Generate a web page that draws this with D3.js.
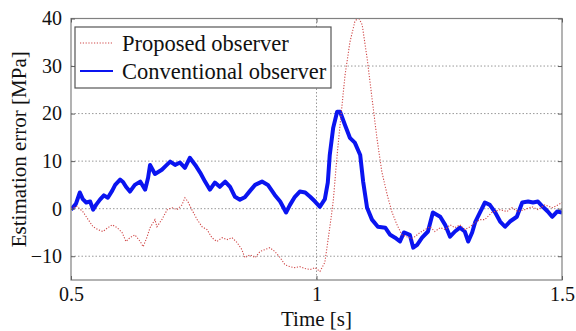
<!DOCTYPE html>
<meta charset="utf-8">
<html>

<head>
  <script src="https://d3js.org/d3.v7.min.js" charset="utf-8"></script>

  <style>
    body {
      margin: 0;
      background-color: white;
    }

    svg text {
      font-family: "Times New Roman", Times, "Liberation Serif", "DejaVu Serif", serif;
      fill: #111;
    }

    .grid line {
      stroke: #999;
      stroke-width: 1;
      stroke-dasharray: 1.5, 2;
    }
  </style>
</head>

<body>
  <script>
    //Series names
    var seriesNames = ['Proposed observer', 'Conventional observer'];

    //Tick labels
    var xTicks = [0.5, 1, 1.5];
    var yTicks = [-10, 0, 10, 20, 30, 40];

    //Proposed observer (time [s], error [MPa])
    var proposedT = [0.500, 0.512, 0.524, 0.535, 0.545, 0.555, 0.565, 0.575, 0.584, 0.594,
      0.604, 0.612, 0.620, 0.630, 0.641, 0.647, 0.655, 0.661, 0.671, 0.675,
      0.685, 0.696, 0.706, 0.716, 0.726, 0.732, 0.738, 0.746, 0.757, 0.767,
      0.777, 0.787, 0.797, 0.808, 0.818, 0.828, 0.838, 0.848, 0.854, 0.865,
      0.875, 0.885, 0.895, 0.905, 0.915, 0.926, 0.936, 0.946, 0.956, 0.966,
      0.977, 0.987, 0.997, 1.007, 1.017, 1.027, 1.034, 1.042, 1.048, 1.058,
      1.068, 1.078, 1.085, 1.093, 1.103, 1.113, 1.123, 1.133, 1.144, 1.154,
      1.164, 1.174, 1.184, 1.195, 1.200, 1.211, 1.221, 1.231, 1.241, 1.252,
      1.262, 1.272, 1.282, 1.292, 1.302, 1.313, 1.323, 1.333, 1.343, 1.357,
      1.374, 1.388, 1.398, 1.410, 1.424, 1.439, 1.451, 1.465, 1.480, 1.492, 1.500];
    var proposedV = [0.0, 0.5, -0.6, -2.3, -3.8, -4.4, -4.8, -4.0, -3.4, -4.0,
      -5.0, -6.9, -6.1, -5.5, -6.9, -8.0, -5.9, -4.0, -2.3, -3.8,
      -2.3, -0.2, 0.2, -0.2, 0.8, 2.3, 1.5, -0.2, -2.3, -3.8,
      -4.4, -6.1, -6.9, -6.1, -6.5, -6.1, -7.1, -8.6, -10.3, -9.7,
      -10.3, -9.0, -8.6, -8.2, -9.0, -10.3, -11.8, -12.2, -12.4, -12.2,
      -12.6, -12.8, -12.4, -13.2, -11.3, -4.0, 1.5, 11.3, 17.6, 28.0,
      35.0, 39.3, 40.3, 38.7, 31.7, 23.3, 14.9, 7.8, 2.9, -0.8,
      -3.4, -5.5, -5.9, -6.3, -5.9, -5.0, -4.4, -3.8, -4.8, -4.0,
      -4.4, -3.4, -4.0, -3.4, -4.4, -3.8, -2.9, -2.3, -2.3, -0.8,
      -0.2, -0.6, 0.2, -0.6, -0.2, 0.4, -0.2, 0.8, 0.2, 0.8, 1.3];

    //Conventional observer (time [s], error [MPa])
    var conventionalT = [0.500, 0.510, 0.518, 0.524, 0.531, 0.539, 0.545, 0.551, 0.559, 0.567,
      0.575, 0.584, 0.590, 0.600, 0.606, 0.612, 0.620, 0.630, 0.641, 0.651,
      0.657, 0.661, 0.671, 0.685, 0.693, 0.702, 0.712, 0.722, 0.732, 0.742,
      0.753, 0.763, 0.773, 0.783, 0.793, 0.803, 0.814, 0.824, 0.834, 0.844,
      0.854, 0.865, 0.875, 0.889, 0.901, 0.915, 0.926, 0.938, 0.946, 0.956,
      0.966, 0.977, 0.987, 0.997, 1.007, 1.017, 1.023, 1.027, 1.034, 1.042,
      1.048, 1.058, 1.068, 1.078, 1.089, 1.095, 1.103, 1.113, 1.125, 1.140,
      1.150, 1.160, 1.170, 1.178, 1.190, 1.197, 1.205, 1.215, 1.227, 1.237,
      1.252, 1.262, 1.272, 1.282, 1.292, 1.302, 1.309, 1.317, 1.323, 1.333,
      1.343, 1.353, 1.364, 1.374, 1.384, 1.394, 1.408, 1.419, 1.431, 1.441,
      1.451, 1.461, 1.471, 1.480, 1.490, 1.500];
    var conventionalV = [-0.2, 1.0, 3.4, 2.0, 1.3, 1.5, -0.2, 0.8, 1.9, 2.8,
      2.3, 3.8, 5.0, 6.1, 5.6, 4.6, 3.6, 5.0, 5.7, 4.0,
      6.5, 9.2, 7.3, 8.2, 9.0, 9.9, 9.2, 9.7, 8.6, 10.7,
      9.2, 7.6, 5.7, 4.0, 5.5, 4.6, 5.7, 4.6, 2.5, 1.9,
      2.4, 3.8, 5.0, 5.7, 5.0, 2.9, 1.5, -0.8, 0.8, 2.5,
      3.6, 3.4, 2.5, 1.5, 0.4, 2.0, 5.5, 11.3, 17.0, 20.4,
      20.4, 17.6, 14.9, 13.9, 11.3, 5.7, 0.2, -2.3, -3.8, -4.0,
      -5.5, -6.1, -6.9, -5.0, -5.5, -8.2, -7.6, -6.1, -4.8, -0.8,
      -1.7, -3.4, -5.9, -4.8, -4.0, -4.8, -6.9, -5.0, -2.9, -0.8,
      1.3, 0.8, -0.8, -2.7, -3.8, -2.7, -1.7, 1.3, 1.5, 1.3,
      1.5, 0.4, -0.6, -1.7, -0.6, -0.8];

    //Plot area
    var W = 576, H = 331;
    var m = { top: 18.5, right: 14, bottom: 51, left: 71 };
    var w = W - m.left - m.right,
      h = H - m.top - m.bottom;

    var svg = d3.select('body')
      .append('svg')
      .attr('width', W)
      .attr('height', H);

    var g = svg.append('g')
      .attr('transform', `translate(${m.left}, ${m.top})`);

    //Scales
    var x = d3.scaleLinear().domain([0.5, 1.5]).range([0, w]);
    var y = d3.scaleLinear().domain([-15, 40]).range([h, 0]);

    //Grid
    g.append('g')
      .attr('class', 'grid')
      .selectAll('line.gy')
      .data(yTicks.filter(d => d < 40))
      .enter()
      .append('line')
      .attr('x1', 0)
      .attr('x2', w)
      .attr('y1', d => y(d))
      .attr('y2', d => y(d));

    g.append('g')
      .attr('class', 'grid')
      .selectAll('line.gx')
      .data(xTicks.filter(d => d > 0.5 && d < 1.5))
      .enter()
      .append('line')
      .attr('y1', 0)
      .attr('y2', h)
      .attr('x1', d => x(d))
      .attr('x2', d => x(d));

    //Clip
    svg.append('clipPath')
      .attr('id', 'clip')
      .append('rect')
      .attr('width', w)
      .attr('height', h);

    var line = d3.line()
      .x(d => x(d[0]))
      .y(d => y(d[1]));

    var proposed = d3.zip(proposedT, proposedV);
    var conventional = d3.zip(conventionalT, conventionalV);

    //Conventional (blue, thick)
    g.append('path')
      .datum(conventional)
      .attr('clip-path', 'url(#clip)')
      .attr('fill', 'none')
      .attr('stroke', '#0a14f0')
      .attr('stroke-width', 4)
      .attr('stroke-linejoin', 'round')
      .attr('d', line);

    //Proposed (red, dotted)
    g.append('path')
      .datum(proposed)
      .attr('clip-path', 'url(#clip)')
      .attr('fill', 'none')
      .attr('stroke', '#d04848')
      .attr('stroke-width', 1.1)
      .attr('stroke-dasharray', '1.2,1.6')
      .attr('d', line);

    //Axes box
    g.append('rect')
      .attr('width', w)
      .attr('height', h)
      .attr('fill', 'none')
      .attr('stroke', '#808080')
      .attr('stroke-width', 1.2);

    //Axes with inward ticks on all sides
    function styleAxis(sel) {
      sel.attr('font-family', null).attr('font-size', null);
      sel.select('.domain').remove();
      sel.selectAll('line').attr('stroke', '#606060');
      sel.selectAll('text')
        .style('font-size', '20px')
        .attr('fill', '#111');
    }

    g.append('g')
      .attr('transform', `translate(0, ${h})`)
      .call(d3.axisBottom(x).tickValues(xTicks).tickFormat(d3.format('')).tickSize(-4).tickPadding(7))
      .call(styleAxis);

    g.append('g')
      .call(d3.axisTop(x).tickValues(xTicks).tickSize(-4).tickFormat(''))
      .call(styleAxis);

    g.append('g')
      .call(d3.axisLeft(y).tickValues(yTicks).tickSize(-4).tickPadding(9))
      .call(styleAxis);

    g.append('g')
      .attr('transform', `translate(${w}, 0)`)
      .call(d3.axisRight(y).tickValues(yTicks).tickSize(-4).tickFormat(''))
      .call(styleAxis);

    //Axis titles
    svg.append('text')
      .attr('x', m.left + x(1))
      .attr('y', 326)
      .attr('text-anchor', 'middle')
      .style('font-size', '21px')
      .text('Time [s]');

    svg.append('text')
      .attr('transform', `translate(26, ${m.top + h / 2}) rotate(-90)`)
      .attr('text-anchor', 'middle')
      .style('font-size', '21px')
      .text('Estimation error [MPa]');

    //Legend
    var leg = svg.append('g')
      .attr('transform', 'translate(75, 27)');

    leg.append('rect')
      .attr('width', 256)
      .attr('height', 61)
      .attr('fill', 'white')
      .attr('stroke', '#555')
      .attr('stroke-width', 1.2);

    var legStyles = [
      { stroke: '#d04848', width: 1.1, dash: '1.2,1.6' },
      { stroke: '#0a14f0', width: 2.2, dash: null }
    ];

    var items = leg.selectAll('g.item')
      .data(seriesNames)
      .enter()
      .append('g')
      .attr('class', 'item')
      .attr('transform', (d, i) => `translate(0, ${16 + i * 28})`);

    items.append('line')
      .attr('x1', 5)
      .attr('x2', 38)
      .attr('stroke', (d, i) => legStyles[i].stroke)
      .attr('stroke-width', (d, i) => legStyles[i].width)
      .attr('stroke-dasharray', (d, i) => legStyles[i].dash);

    items.append('text')
      .attr('x', 47)
      .attr('y', 8)
      .style('font-size', '22.5px')
      .text(d => d);
  </script>
</body>

</html>
